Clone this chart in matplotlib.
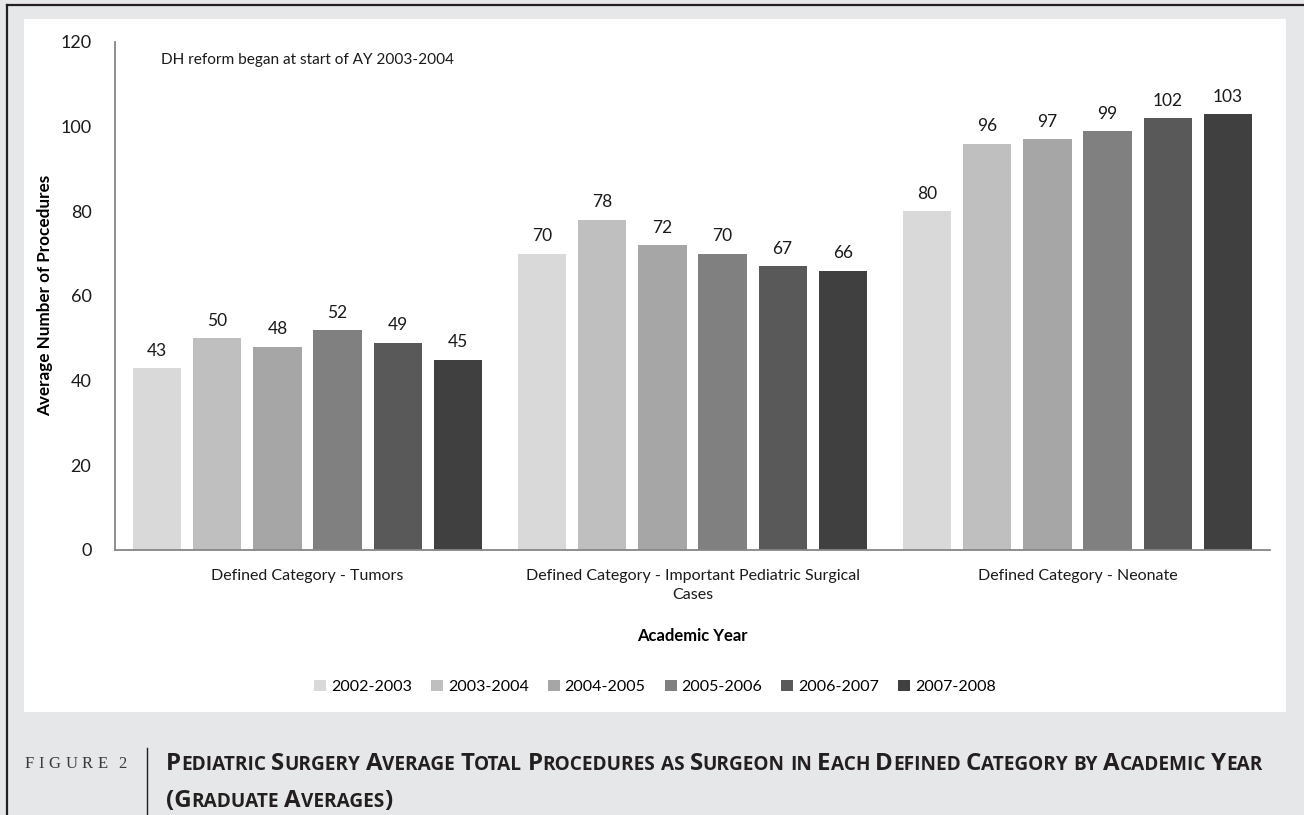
import matplotlib.pyplot as plt
import matplotlib.transforms as mtransforms
from matplotlib.patches import Rectangle
from matplotlib.lines import Line2D
import numpy as np

plt.rcParams['font.family'] = ['Lato', 'DejaVu Sans']

# data
categories = ['Defined Category - Tumors',
              'Defined Category - Important Pediatric Surgical\nCases',
              'Defined Category - Neonate']
years = ['2002-2003', '2003-2004', '2004-2005', '2005-2006', '2006-2007', '2007-2008']
tumors = [43, 50, 48, 52, 49, 45]
important = [70, 78, 72, 70, 67, 66]
neonate = [80, 96, 97, 99, 102, 103]
colors = ['#d9d9d9', '#bfbfbf', '#a6a6a6', '#808080', '#595959', '#404040']

W, H = 1304, 815
fig = plt.figure(figsize=(W / 100, H / 100), dpi=100)
fig.patch.set_facecolor('#e6e7e8')
ident = mtransforms.IdentityTransform()


def px(x, y):
    return x, H - y


# frame and white panel
fig.add_artist(Rectangle(px(24, 712), 1262, 693, transform=ident,
                         facecolor='white', edgecolor='none', zorder=0))
fig.add_artist(Line2D([7, W], [H - 5, H - 5], transform=ident, color='#231f20', lw=1.6))
fig.add_artist(Line2D([7, 7], [H - 5, 0], transform=ident, color='#231f20', lw=1.6))
fig.add_artist(Line2D([147, 147], [H - 748, 0], transform=ident, color='#231f20', lw=1.0))

ax = fig.add_axes([115 / W, 1 - 550 / H, 1155 / W, 508 / H])
ax.set_facecolor('none')

pitch, bw = 0.156, 0.125
x = np.arange(len(categories))
for j, yr in enumerate(years):
    vals = [tumors[j], important[j], neonate[j]]
    bars = ax.bar(x + (j - 2.5) * pitch, vals, bw, color=colors[j], label=yr, zorder=2)
    for b, v in zip(bars, vals):
        ax.text(b.get_x() + b.get_width() / 2, v + 2.2, f'{v:.0f}', ha='center',
                va='bottom', fontsize=12.5, color='#1a1a1a')

ax.set_xlim(-0.5, 2.5)
ax.set_ylim(0, 120)
ax.set_yticks(range(0, 121, 20))
ax.set_xticks(x)
ax.set_xticklabels(categories, fontsize=11.5, color='#1a1a1a', linespacing=1.45)
ax.tick_params(axis='both', length=0, colors='#1a1a1a')
ax.tick_params(axis='y', pad=17, labelsize=13)
ax.tick_params(axis='x', pad=14)
for s in ['top', 'right']:
    ax.spines[s].set_visible(False)
for s in ['left', 'bottom']:
    ax.spines[s].set_color('#868686')
    ax.spines[s].set_linewidth(1.3)

ax.text(0.04, 0.965, 'DH reform began at start of AY 2003-2004', transform=ax.transAxes,
        fontsize=11.1, va='center', ha='left', color='#1a1a1a')

fig.text(45 / W, 1 - 295 / H, 'Average Number of Procedures', rotation=90,
         ha='center', va='center', fontsize=12.3, fontweight='bold')
fig.text(692 / W, 1 - 636 / H, 'Academic Year', ha='center', va='center',
         fontsize=12, fontweight='bold')

fig.legend(loc='center', bbox_to_anchor=(655 / W, 1 - 687 / H), ncol=6, frameon=False,
           fontsize=11.5, handlelength=0.75, handleheight=0.75, handletextpad=0.3,
           columnspacing=1.2)

renderer = fig.canvas.get_renderer()

# caption label, letter-spaced serif
xc = 25
for ch in 'FIGURE 2':
    t = fig.text(xc, H - 768, ch, transform=ident, fontsize=12,
                 family='Liberation Serif', color='#3a3a3a', ha='left', va='baseline')
    xc += t.get_window_extent(renderer=renderer).width + 4.5 if ch != ' ' else 6


def small_caps(x0, y0, text, big=17.4, small=13.7):
    xc = x0
    for word in text.split(' '):
        runs = []
        for ch in word:
            size = big if (ch.isupper() or not ch.isalpha()) else small
            if runs and runs[-1][1] == size:
                runs[-1][0] += ch
            else:
                runs.append([ch, size])
        for s, size in runs:
            t = fig.text(xc, H - y0, s.upper(), transform=ident, fontsize=size,
                         fontweight='bold', family='Open Sans', color='#231f20',
                         ha='left', va='baseline')
            xc += t.get_window_extent(renderer=renderer).width
        xc += big * 0.3
    return xc


small_caps(166, 770, 'Pediatric Surgery Average Total Procedures as Surgeon in Each '
                     'Defined Category by Academic Year')
small_caps(166, 807, '(Graduate Averages)')

fig.savefig('out.png', dpi=100, facecolor=fig.get_facecolor())
